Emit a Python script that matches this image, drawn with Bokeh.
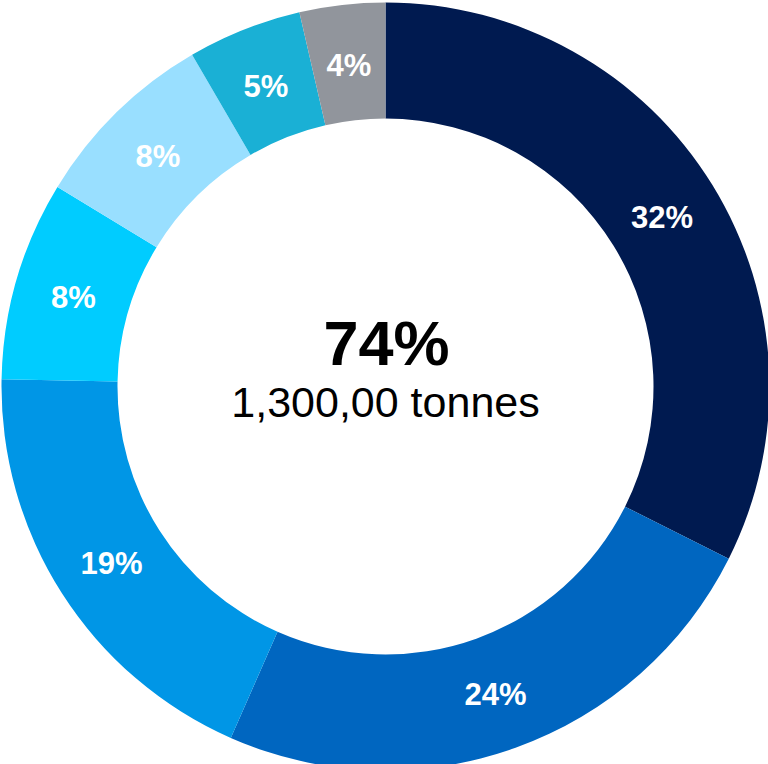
import math
from bokeh.plotting import figure
from bokeh.models import ColumnDataSource
from bokeh.core.properties import value
from bokeh.embed import file_html
from bokeh.resources import INLINE

# Data (clockwise from 12 o'clock)
shares = [32.4, 24.2, 18.7, 8.4, 7.9, 4.8, 3.6]
labels = ["32%", "24%", "19%", "8%", "8%", "5%", "4%"]
colors = ["#001A50", "#0066C0", "#0096E6", "#00CCFF", "#99DFFF", "#1AB0D5", "#91959C"]
center_value = "74%"
center_caption = "1,300,00 tonnes"

INNER_R = 268
OUTER_R = 384
LABEL_R = 325

total = sum(shares)
starts, ends, lx, ly = [], [], [], []
cum = 0.0
for s in shares:
    a0 = math.pi / 2 - 2 * math.pi * cum / total
    cum += s
    a1 = math.pi / 2 - 2 * math.pi * cum / total
    starts.append(a0)
    ends.append(a1)
    mid = (a0 + a1) / 2
    lx.append(LABEL_R * math.cos(mid))
    ly.append(LABEL_R * math.sin(mid))

src = ColumnDataSource(dict(start=starts, end=ends, color=colors,
                            lx=lx, ly=ly, label=labels))

W, H = 768, 764
p = figure(width=W, height=H, x_range=(-385, 383), y_range=(-378, 386),
           output_backend="svg", toolbar_location=None, min_border=0)
p.axis.visible = False
p.grid.visible = False
p.outline_line_color = None
p.background_fill_color = "white"
p.border_fill_color = "white"

p.annular_wedge(x=0, y=0, inner_radius=INNER_R, outer_radius=OUTER_R,
                start_angle="start", end_angle="end", direction="clock",
                fill_color="color", line_color=None, source=src)

p.text(x="lx", y="ly", text="label", source=src, text_color="white",
       text_font=value("Liberation Sans"), text_font_style="bold",
       text_font_size="31px", text_align="center", text_baseline="middle",
       y_offset=2)

p.text(x=[1], y=[44], text=[center_value], text_color="black",
       text_font=value("Liberation Sans"), text_font_style="bold",
       text_font_size="63px", text_align="center", text_baseline="middle")
p.text(x=[0], y=[-15], text=[center_caption], text_color="black",
       text_font=value("Liberation Sans"), text_font_style="normal",
       text_font_size="43px", text_align="center", text_baseline="middle")

open("out.html", "w").write(file_html(p, INLINE))
